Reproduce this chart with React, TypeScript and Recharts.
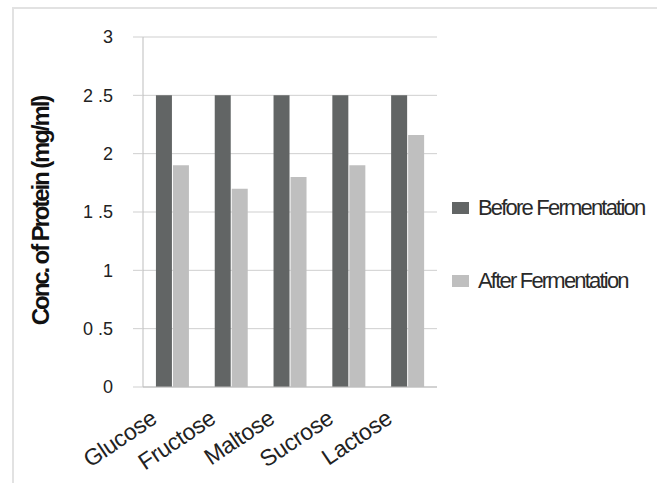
import React from 'react';
import { BarChart, Bar, XAxis, YAxis, CartesianGrid } from 'recharts';

const categories = ['Glucose', 'Fructose', 'Maltose', 'Sucrose', 'Lactose'];
const beforeValues = [2.5, 2.5, 2.5, 2.5, 2.5];
const afterValues = [1.9, 1.7, 1.8, 1.9, 2.16];
const yTicks = [0, 0.5, 1, 1.5, 2, 2.5, 3];
const seriesNames = ['Before Fermentation', 'After Fermentation'];

const DARK = '#626565';
const LIGHT = '#bfbfbf';
const FONT = '"Liberation Sans", Arial, sans-serif';

const data = categories.map((name, i) => ({
  name,
  before: beforeValues[i],
  after: afterValues[i],
}));

const fmtTick = (v: number) => String(v).replace('.', ' .');

// rotated category labels, ending just left of the group centre
const XTick = (props: any) => {
  const { x, y, payload } = props;
  const tx = x - 14;
  const ty = y + 27;
  return (
    <text
      x={tx}
      y={ty}
      textAnchor="end"
      fontSize={23}
      letterSpacing={-0.3}
      fontFamily={FONT}
      fill="#222"
      transform={`rotate(-34, ${tx}, ${ty})`}
    >
      {payload.value}
    </text>
  );
};

export default function App() {
  return (
    <div style={{ position: 'absolute', left: 0, top: 0, width: 657, height: 483, background: '#fff', overflow: 'hidden' }}>
      <div
        style={{
          position: 'absolute',
          left: 12,
          top: 7,
          width: 700,
          height: 600,
          borderTop: '2px solid #e2e2e2',
          borderLeft: '2px solid #e2e2e2',
        }}
      />
      <BarChart
        width={657}
        height={483}
        data={data}
        margin={{ top: 37, right: 220, bottom: 0, left: 0 }}
        barCategoryGap="22%"
        barGap={1}
        style={{ position: 'absolute', left: 0, top: 0 }}
      >
        <CartesianGrid vertical={false} stroke="#cfcfcf" />
        <XAxis
          dataKey="name"
          axisLine={{ stroke: '#bdbdbd' }}
          tickLine={false}
          tick={<XTick />}
          interval={0}
          height={96}
        />
        <YAxis
          width={143}
          domain={[0, 3]}
          ticks={yTicks}
          tickFormatter={fmtTick}
          axisLine={{ stroke: '#bdbdbd' }}
          tickLine={{ stroke: '#cfcfcf' }}
          tickSize={10}
          tickMargin={20}
          tick={{ fontSize: 18, fontFamily: FONT, fill: '#222' }}
          label={() => (
            <text
              x={40}
              y={211}
              textAnchor="middle"
              dominantBaseline="central"
              fontSize={24}
              fontWeight="bold"
              fontFamily={FONT}
              letterSpacing={-2.1}
              fill="#111"
              transform="rotate(-90, 40, 211)"
            >
              Conc. of Protein (mg/ml)
            </text>
          )}
        />
        <Bar dataKey="before" name={seriesNames[0]} fill={DARK} isAnimationActive={false} />
        <Bar dataKey="after" name={seriesNames[1]} fill={LIGHT} isAnimationActive={false} />
      </BarChart>
      <div
        style={{
          position: 'absolute',
          left: 452,
          top: 195,
          fontFamily: FONT,
          fontSize: 22,
          letterSpacing: -1.8,
          color: '#2a2a2a',
          whiteSpace: 'nowrap',
        }}
      >
        {seriesNames.map((label, i) => (
          <div key={label} style={{ display: 'flex', alignItems: 'center', height: 26, marginBottom: i === 0 ? 47 : 0 }}>
            <span style={{ display: 'inline-block', width: 17, height: 12, background: i === 0 ? DARK : LIGHT, marginRight: 9 }} />
            <span>{label}</span>
          </div>
        ))}
      </div>
    </div>
  );
}
